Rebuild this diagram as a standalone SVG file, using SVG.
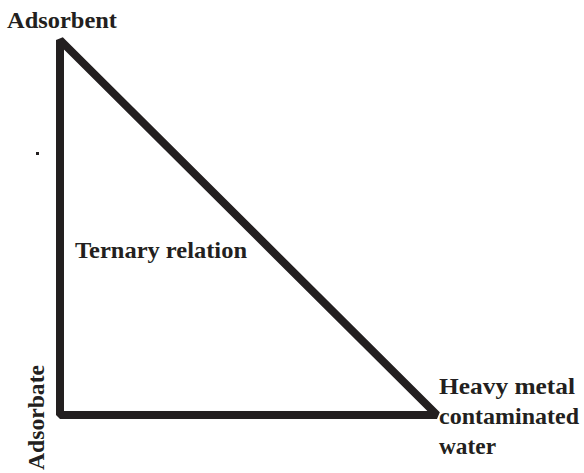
<svg xmlns="http://www.w3.org/2000/svg" width="584" height="473" viewBox="0 0 584 473">
<style>
.lbl{font-family:"Liberation Serif","DejaVu Serif",serif;font-weight:bold;font-size:23px;fill:#231f20}
.edge{fill:none;stroke:#231f20;stroke-width:8;stroke-linejoin:bevel;stroke-linecap:butt}
</style>
<rect width="584" height="473" fill="#ffffff"/>
<g id="connectors">
<path class="edge" d="M60,40 L60,415 L437,415 Z"/>
</g>
<g id="node-adsorbent"><text class="lbl" x="7" y="28" textLength="110" lengthAdjust="spacingAndGlyphs">Adsorbent</text></g>
<g id="node-adsorbate"><text class="lbl" transform="translate(44,470) rotate(-90)" textLength="105" lengthAdjust="spacingAndGlyphs">Adsorbate</text></g>
<g id="node-water">
<text class="lbl" x="439" y="394" textLength="136" lengthAdjust="spacingAndGlyphs">Heavy metal</text>
<text class="lbl" x="439" y="424" textLength="140" lengthAdjust="spacingAndGlyphs">contaminated</text>
<text class="lbl" x="439" y="454" textLength="57" lengthAdjust="spacingAndGlyphs">water</text>
</g>
<g id="node-center"><text class="lbl" x="75" y="258" textLength="172" lengthAdjust="spacingAndGlyphs">Ternary relation</text></g>
<rect x="36" y="152" width="3" height="3" fill="#231f20"/>
</svg>
